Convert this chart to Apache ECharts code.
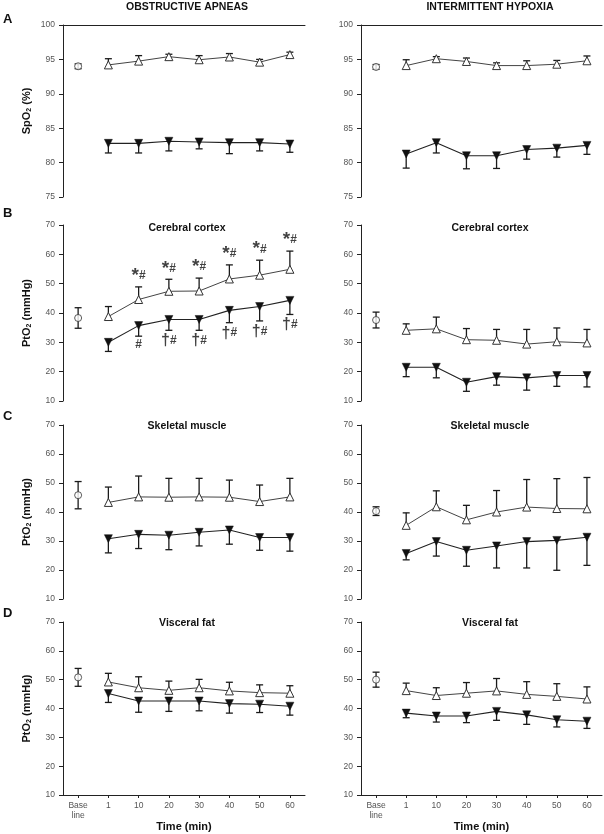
<!DOCTYPE html>
<html><head><meta charset="utf-8">
<script src="https://cdn.jsdelivr.net/npm/echarts@6/dist/echarts.min.js"></script>
<style>html,body{margin:0;padding:0;background:#fff}#c{width:604px;height:834px}</style>
</head><body><div id="c"></div>
<script>
const FONT = "'Liberation Sans Narrow','Arial Narrow','Liberation Sans',Arial,sans-serif";

const categories = ['Base\nline', '1', '10', '20', '30', '40', '50', '60'];

// A: SpO2 (%) — Obstructive apneas
const oaSpo2Base = 94.0, oaSpo2BaseErr = 0.35;
const oaSpo2Open = [94.2, 94.75, 95.4, 94.95, 95.35, 94.6, 95.7];
const oaSpo2OpenErr = [0.9, 0.8, 0.35, 0.6, 0.5, 0.4, 0.35];
const oaSpo2Filled = [82.8, 82.8, 83.1, 83.0, 82.9, 82.9, 82.7];
const oaSpo2FilledErr = [1.4, 1.4, 1.4, 1.0, 1.6, 1.2, 1.2];
// A: SpO2 (%) — Intermittent hypoxia
const ihSpo2Base = 93.9, ihSpo2BaseErr = 0.35;
const ihSpo2Open = [94.1, 95.1, 94.7, 94.1, 94.1, 94.3, 94.8];
const ihSpo2OpenErr = [0.85, 0.3, 0.5, 0.4, 0.7, 0.55, 0.7];
const ihSpo2Filled = [81.25, 82.9, 81.0, 81.0, 81.9, 82.1, 82.5];
const ihSpo2FilledErr = [2.05, 1.5, 1.9, 1.85, 1.4, 1.3, 1.3];

// B: Cerebral cortex PtO2
const oaCortexBase = 38.3, oaCortexBaseErr = 3.5;
const oaCortexOpen = [38.8, 44.6, 47.4, 47.5, 51.6, 52.9, 54.9];
const oaCortexOpenErr = [3.4, 4.3, 4.1, 4.4, 4.8, 5.1, 6.2];
const oaCortexFilled = [30.0, 35.7, 37.8, 37.8, 40.9, 42.2, 44.3];
const oaCortexFilledErr = [3.1, 3.6, 3.7, 3.7, 4.2, 4.9, 4.8];
const oaCortexOpenMarks = ['', '*#', '*#', '*#', '*#', '*#', '*#'];
const oaCortexFilledMarks = ['', '#', '†#', '†#', '†#', '†#', '†#'];
const ihCortexBase = 37.6, ihCortexBaseErr = 2.7;
const ihCortexOpen = [34.1, 34.6, 30.9, 30.7, 29.4, 30.2, 29.8];
const ihCortexOpenErr = [2.2, 4.0, 3.8, 3.7, 5.0, 4.7, 4.6];
const ihCortexFilled = [21.5, 21.5, 16.4, 18.3, 17.9, 18.7, 18.7];
const ihCortexFilledErr = [3.2, 3.6, 3.1, 2.9, 4.2, 3.7, 3.9];

// C: Skeletal muscle PtO2
const oaMuscleBase = 45.8, oaMuscleBaseErr = 4.7;
const oaMuscleOpen = [43.3, 45.2, 45.1, 45.2, 45.1, 43.6, 45.2];
const oaMuscleOpenErr = [5.3, 7.2, 6.5, 6.4, 5.9, 5.7, 6.4];
const oaMuscleFilled = [30.8, 32.3, 32.0, 33.0, 33.8, 31.2, 31.2];
const oaMuscleFilledErr = [4.9, 4.9, 5.0, 4.7, 4.9, 4.4, 4.7];
const ihMuscleBase = 40.3, ihMuscleBaseErr = 1.5;
const ihMuscleOpen = [35.4, 41.8, 37.3, 40.0, 41.7, 41.2, 41.1];
const ihMuscleOpenErr = [4.3, 5.5, 5.0, 7.4, 9.5, 10.3, 10.8];
const ihMuscleFilled = [25.7, 29.8, 26.8, 28.3, 29.8, 30.2, 31.3];
const ihMuscleFilledErr = [2.2, 5.0, 5.5, 7.6, 9.1, 10.3, 9.7];

// D: Visceral fat PtO2
const oaFatBase = 50.8, oaFatBaseErr = 3.1;
const oaFatOpen = [49.2, 47.2, 46.3, 47.2, 46.1, 45.5, 45.3];
const oaFatOpenErr = [3.0, 3.8, 3.2, 2.9, 3.0, 2.7, 2.6];
const oaFatFilled = [45.2, 42.6, 42.6, 42.6, 41.7, 41.5, 40.8];
const oaFatFilledErr = [3.1, 3.9, 3.6, 3.4, 3.3, 2.9, 3.1];
const ihFatBase = 50.0, ihFatBaseErr = 2.6;
const ihFatOpen = [46.2, 44.5, 45.3, 46.1, 44.9, 44.2, 43.3];
const ihFatOpenErr = [2.6, 2.7, 3.7, 4.3, 4.4, 4.4, 4.2];
const ihFatFilled = [38.4, 37.4, 37.4, 39.0, 37.8, 36.1, 35.6];
const ihFatFilledErr = [1.6, 2.1, 2.3, 3.1, 3.3, 2.5, 2.5];

const spo2Axis = {min: 75, max: 100, interval: 5};
const pto2Axis = {min: 10, max: 70, interval: 10};

const colTitles = ['OBSTRUCTIVE APNEAS', 'INTERMITTENT HYPOXIA'];
const panelLetters = ['A', 'B', 'C', 'D'];
const tissueTitles = ['', 'Cerebral cortex', 'Skeletal muscle', 'Visceral fat'];

const panels = [
  {row: 0, col: 0, axis: spo2Axis, base: oaSpo2Base, baseErr: oaSpo2BaseErr, open: oaSpo2Open, openErr: oaSpo2OpenErr, filled: oaSpo2Filled, filledErr: oaSpo2FilledErr},
  {row: 0, col: 1, axis: spo2Axis, base: ihSpo2Base, baseErr: ihSpo2BaseErr, open: ihSpo2Open, openErr: ihSpo2OpenErr, filled: ihSpo2Filled, filledErr: ihSpo2FilledErr},
  {row: 1, col: 0, axis: pto2Axis, base: oaCortexBase, baseErr: oaCortexBaseErr, open: oaCortexOpen, openErr: oaCortexOpenErr, filled: oaCortexFilled, filledErr: oaCortexFilledErr, openMarks: oaCortexOpenMarks, filledMarks: oaCortexFilledMarks},
  {row: 1, col: 1, axis: pto2Axis, base: ihCortexBase, baseErr: ihCortexBaseErr, open: ihCortexOpen, openErr: ihCortexOpenErr, filled: ihCortexFilled, filledErr: ihCortexFilledErr},
  {row: 2, col: 0, axis: pto2Axis, base: oaMuscleBase, baseErr: oaMuscleBaseErr, open: oaMuscleOpen, openErr: oaMuscleOpenErr, filled: oaMuscleFilled, filledErr: oaMuscleFilledErr},
  {row: 2, col: 1, axis: pto2Axis, base: ihMuscleBase, baseErr: ihMuscleBaseErr, open: ihMuscleOpen, openErr: ihMuscleOpenErr, filled: ihMuscleFilled, filledErr: ihMuscleFilledErr},
  {row: 3, col: 0, axis: pto2Axis, base: oaFatBase, baseErr: oaFatBaseErr, open: oaFatOpen, openErr: oaFatOpenErr, filled: oaFatFilled, filledErr: oaFatFilledErr},
  {row: 3, col: 1, axis: pto2Axis, base: ihFatBase, baseErr: ihFatBaseErr, open: ihFatOpen, openErr: ihFatOpenErr, filled: ihFatFilled, filledErr: ihFatFilledErr}
];

// layout
const colLeft = [63, 361], colWidth = [242, 241];
const rowTop = [25, 225, 425, 622], rowHeight = [172, 176, 174, 173];
const colCenter = [187, 490];
const letterY = [19, 213, 416, 613];

const AXIS_COLOR = '#222', LABEL_COLOR = '#555';

function errRender(dir) {
  return function (params, api) {
    const x = api.value(0), y = api.value(1), e = api.value(2);
    const c = api.coord([x, y]);
    const hi = api.coord([x, y + e]);
    const lo = api.coord([x, y - e]);
    const w = 3.5;
    const st = {stroke: '#1a1a1a', lineWidth: 1.3};
    const ch = [];
    if (dir !== 'down') {
      ch.push({type: 'line', shape: {x1: c[0], y1: c[1], x2: hi[0], y2: hi[1]}, style: st});
      ch.push({type: 'line', shape: {x1: hi[0] - w, y1: hi[1], x2: hi[0] + w, y2: hi[1]}, style: st});
    }
    if (dir !== 'up') {
      ch.push({type: 'line', shape: {x1: c[0], y1: c[1], x2: lo[0], y2: lo[1]}, style: st});
      ch.push({type: 'line', shape: {x1: lo[0] - w, y1: lo[1], x2: lo[0] + w, y2: lo[1]}, style: st});
    }
    return {type: 'group', children: ch};
  };
}

const grids = [], xAxes = [], yAxes = [], series = [];
panels.forEach((p, gi) => {
  grids.push({left: colLeft[p.col], top: rowTop[p.row], width: colWidth[p.col], height: rowHeight[p.row]});
  const isBottom = p.row === 3, isTop = p.row === 0;
  xAxes.push({
    gridIndex: gi, type: 'category', data: categories, boundaryGap: true,
    position: isTop ? 'top' : 'bottom',
    axisLine: {show: isBottom || isTop, onZero: false, lineStyle: {color: AXIS_COLOR, width: 1}},
    axisTick: {show: isBottom, alignWithLabel: true, length: 3, lineStyle: {color: AXIS_COLOR}},
    axisLabel: {show: isBottom, color: LABEL_COLOR, fontSize: 8.5, fontFamily: FONT, margin: 6, lineHeight: 10, interval: 0},
    splitLine: {show: false},
    name: isBottom ? 'Time (min)' : '', nameLocation: 'middle', nameGap: 25,
    nameTextStyle: {fontFamily: FONT, fontWeight: 'bold', fontSize: 11, color: '#111'}
  });
  const yName = p.col === 0 ? (p.row === 0 ? '{a|SpO}{s|2}{a| (%)}' : '{a|PtO}{s|2}{a| (mmHg)}') : '';
  yAxes.push({
    gridIndex: gi, type: 'value', min: p.axis.min, max: p.axis.max, interval: p.axis.interval,
    axisLine: {show: true, lineStyle: {color: AXIS_COLOR, width: 1}},
    axisTick: {show: true, length: 4, lineStyle: {color: AXIS_COLOR}},
    axisLabel: {color: LABEL_COLOR, fontSize: 8.5, fontFamily: FONT, margin: 8},
    splitLine: {show: false},
    name: yName, nameLocation: 'middle', nameGap: 30, nameRotate: 90,
    nameTextStyle: {
      rich: {
        a: {fontFamily: FONT, fontWeight: 'bold', fontSize: 11, color: '#111'},
        s: {fontFamily: FONT, fontWeight: 'bold', fontSize: 7, color: '#111', padding: [6, 0, 0, 0]}
      }
    }
  });
  series.push({type: 'custom', xAxisIndex: gi, yAxisIndex: gi, renderItem: errRender('both'), data: [[0, p.base, p.baseErr]], z: 2, clip: false});
  series.push({type: 'custom', xAxisIndex: gi, yAxisIndex: gi, renderItem: errRender('up'), data: p.open.map((v, i) => [i + 1, v, p.openErr[i]]), z: 2, clip: false});
  series.push({type: 'custom', xAxisIndex: gi, yAxisIndex: gi, renderItem: errRender('down'), data: p.filled.map((v, i) => [i + 1, v, p.filledErr[i]]), z: 2, clip: false});
  series.push({
    type: 'line', xAxisIndex: gi, yAxisIndex: gi, data: ['-'].concat(p.open),
    symbol: 'triangle', symbolSize: 8, showAllSymbol: true,
    itemStyle: {color: '#fff', borderColor: '#333', borderWidth: 1},
    lineStyle: {color: '#444', width: 1}, z: 3, animation: false
  });
  series.push({
    type: 'line', xAxisIndex: gi, yAxisIndex: gi, data: ['-'].concat(p.filled),
    symbol: 'triangle', symbolRotate: 180, symbolSize: 8, showAllSymbol: true,
    itemStyle: {color: '#111', borderColor: '#111', borderWidth: 0.5},
    lineStyle: {color: '#222', width: 1.1}, z: 3, animation: false
  });
  series.push({
    type: 'scatter', xAxisIndex: gi, yAxisIndex: gi, data: [[0, p.base]],
    symbol: 'circle', symbolSize: 7,
    itemStyle: {color: '#fff', borderColor: '#333', borderWidth: 1}, z: 4, animation: false
  });
  const rich = {
    s: {fontFamily: FONT, fontWeight: 'bold', fontSize: 19, color: '#111'},
    d: {fontFamily: FONT, fontWeight: 'bold', fontSize: 16, color: '#111'},
    h: {fontFamily: FONT, fontWeight: 'bold', fontSize: 12, color: '#111'}
  };
  const fmt = s => s.replace('*', '{s|*}').replace('†', '{d|†}').replace('#', '{h|#}');
  if (p.openMarks) {
    series.push({
      type: 'scatter', xAxisIndex: gi, yAxisIndex: gi, symbolSize: 1,
      itemStyle: {color: 'rgba(0,0,0,0)'}, z: 5, animation: false,
      data: p.open.map((v, i) => ({value: [i + 1, v + p.openErr[i]], label: {show: !!p.openMarks[i], formatter: fmt(p.openMarks[i])}})),
      label: {position: 'top', distance: 1, rich: rich}
    });
  }
  if (p.filledMarks) {
    series.push({
      type: 'scatter', xAxisIndex: gi, yAxisIndex: gi, symbolSize: 1,
      itemStyle: {color: 'rgba(0,0,0,0)'}, z: 5, animation: false,
      data: p.filled.map((v, i) => ({value: [i + 1, v - p.filledErr[i]], label: {show: !!p.filledMarks[i], formatter: fmt(p.filledMarks[i])}})),
      label: {position: 'bottom', distance: 2, rich: rich}
    });
  }
});

const graphic = [];
colTitles.forEach((t, c) => graphic.push({type: 'text', x: colCenter[c], y: 7, style: {text: t, fontFamily: FONT, fontWeight: 'bold', fontSize: 10.5, fill: '#111', textAlign: 'center', textVerticalAlign: 'middle'}}));
panelLetters.forEach((t, r) => graphic.push({type: 'text', x: 3, y: letterY[r], style: {text: t, fontFamily: FONT, fontWeight: 'bold', fontSize: 13, fill: '#111', textAlign: 'left', textVerticalAlign: 'middle'}}));
const subtitleY = [0, 228, 426, 623];
tissueTitles.forEach((t, r) => {
  if (!t) return;
  [0, 1].forEach(c => graphic.push({type: 'text', x: colCenter[c], y: subtitleY[r], style: {text: t, fontFamily: FONT, fontWeight: 'bold', fontSize: 10.5, fill: '#111', textAlign: 'center', textVerticalAlign: 'middle'}}));
});

const chart = echarts.init(document.getElementById('c'), null, {renderer: 'canvas'});
chart.setOption({
  animation: false,
  backgroundColor: '#fff',
  grid: grids, xAxis: xAxes, yAxis: yAxes, series: series, graphic: graphic
});
</script></body></html>
